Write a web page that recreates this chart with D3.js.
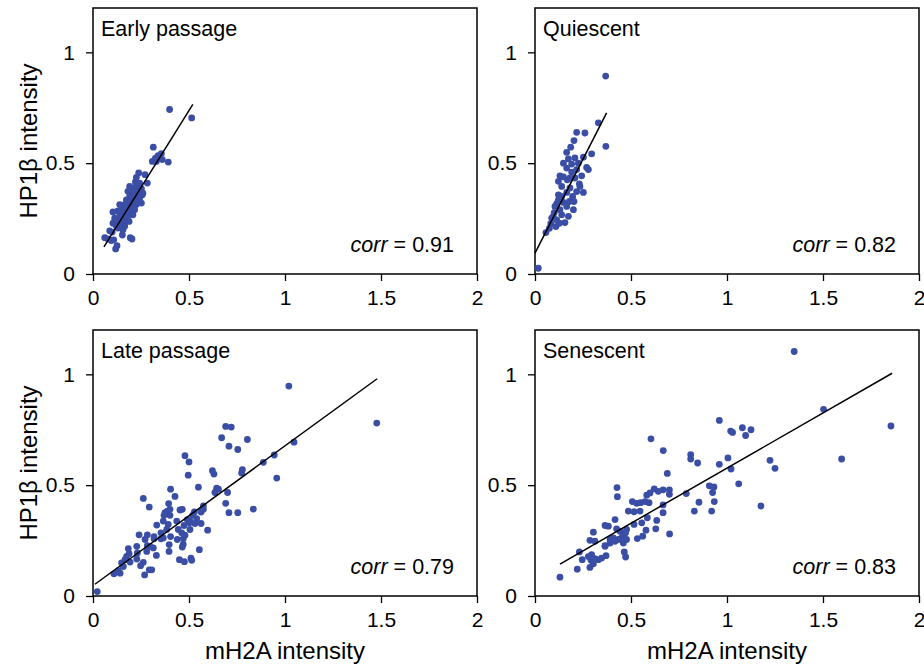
<!DOCTYPE html>
<html>
<head>
<meta charset="utf-8">
<script src="https://cdn.jsdelivr.net/npm/d3@7"></script>
<style>
  body { margin: 0; background: #fff; }
  text { font-family: "Liberation Sans", Arial, sans-serif; }
</style>
</head>
<body>
<div id="chart"></div>
<script>
// Panel titles and correlation labels
var panelNames = ["Early passage", "Quiescent", "Late passage", "Senescent"];
var corrValues = ["0.91", "0.82", "0.79", "0.83"];

// Tick labels
var xTicks = [0, 0.5, 1, 1.5, 2];
var yTicks = [0, 0.5, 1];

// Fit lines: [x0, y0, x1, y1]
var fitLines = [
  [0.057, 0.122, 0.52, 0.765],
  [0.0, 0.094, 0.373, 0.727],
  [0.01, 0.053, 1.48, 0.98],
  [0.13, 0.144, 1.86, 1.005]
];

// Points, [mH2A, HP1b] per cell
var earlyPassage = [
  [0.399,0.742],[0.514,0.704],[0.314,0.572],[0.356,0.543],[0.339,0.534],[0.325,0.523],
  [0.347,0.523],[0.309,0.508],[0.33,0.508],[0.361,0.516],[0.392,0.505],[0.238,0.456],
  [0.271,0.448],[0.226,0.436],[0.221,0.415],[0.283,0.41],[0.191,0.395],[0.234,0.403],
  [0.217,0.388],[0.252,0.385],[0.208,0.37],[0.234,0.361],[0.257,0.358],[0.191,0.35],
  [0.217,0.339],[0.174,0.334],[0.252,0.32],[0.2,0.324],[0.226,0.313],[0.165,0.313],
  [0.188,0.3],[0.217,0.29],[0.156,0.29],[0.13,0.285],[0.174,0.275],[0.2,0.275],
  [0.148,0.264],[0.113,0.252],[0.165,0.249],[0.135,0.24],[0.188,0.237],[0.104,0.229],
  [0.148,0.225],[0.122,0.215],[0.087,0.195],[0.1,0.189],[0.156,0.2],[0.153,0.176],
  [0.194,0.164],[0.203,0.158],[0.061,0.164],[0.078,0.158],[0.095,0.151],[0.108,0.154],
  [0.125,0.128],[0.118,0.113],[0.243,0.41],[0.26,0.365],[0.182,0.373],[0.243,0.342],
  [0.139,0.267],[0.174,0.252],[0.208,0.267],[0.122,0.237],[0.165,0.215],[0.182,0.327],
  [0.139,0.313],[0.104,0.28],[0.191,0.29],[0.217,0.358],[0.234,0.381],[0.174,0.297],
  [0.156,0.267],[0.205,0.305],[0.226,0.331],[0.182,0.259],[0.148,0.244],[0.13,0.207],
  [0.165,0.229]
];

var quiescent = [
  [0.017,0.026],[0.368,0.893],[0.369,0.576],[0.33,0.682],[0.217,0.639],[0.26,0.636],
  [0.203,0.602],[0.186,0.572],[0.165,0.549],[0.295,0.542],[0.174,0.519],[0.208,0.524],
  [0.252,0.527],[0.191,0.496],[0.269,0.481],[0.165,0.478],[0.217,0.471],[0.191,0.46],
  [0.13,0.443],[0.148,0.438],[0.243,0.443],[0.208,0.433],[0.168,0.425],[0.122,0.418],
  [0.231,0.407],[0.139,0.395],[0.182,0.388],[0.217,0.372],[0.165,0.368],[0.122,0.357],
  [0.196,0.35],[0.203,0.327],[0.148,0.323],[0.113,0.317],[0.165,0.305],[0.13,0.29],
  [0.1,0.277],[0.139,0.267],[0.087,0.252],[0.113,0.244],[0.156,0.232],[0.082,0.227],
  [0.109,0.214],[0.057,0.187],[0.075,0.206],[0.179,0.327],[0.104,0.305],[0.139,0.35],
  [0.234,0.395],[0.252,0.368],[0.095,0.26],[0.127,0.229],[0.182,0.433],[0.278,0.471],
  [0.148,0.5],[0.226,0.5],[0.2,0.29],[0.174,0.26],[0.122,0.334]
];

var latePassage = [
  [0.022,0.02],[1.02,0.947],[1.478,0.78],[1.047,0.694],[0.944,0.636],[0.887,0.603],
  [0.957,0.532],[0.835,0.392],[0.691,0.765],[0.72,0.762],[0.67,0.714],[0.804,0.706],
  [0.708,0.676],[0.754,0.661],[0.778,0.57],[0.774,0.555],[0.622,0.565],[0.63,0.55],
  [0.479,0.633],[0.5,0.605],[0.496,0.545],[0.549,0.491],[0.404,0.482],[0.427,0.449],
  [0.262,0.44],[0.293,0.401],[0.394,0.417],[0.387,0.383],[0.401,0.364],[0.37,0.364],
  [0.453,0.388],[0.465,0.391],[0.644,0.486],[0.653,0.482],[0.635,0.467],[0.701,0.467],
  [0.691,0.418],[0.708,0.376],[0.754,0.376],[0.575,0.406],[0.563,0.379],[0.528,0.379],
  [0.519,0.364],[0.491,0.345],[0.502,0.33],[0.531,0.327],[0.563,0.327],[0.474,0.318],
  [0.505,0.3],[0.597,0.297],[0.479,0.274],[0.444,0.3],[0.392,0.323],[0.366,0.338],
  [0.332,0.32],[0.354,0.285],[0.366,0.262],[0.318,0.268],[0.283,0.276],[0.24,0.276],
  [0.404,0.268],[0.439,0.255],[0.47,0.258],[0.397,0.232],[0.396,0.201],[0.47,0.233],
  [0.465,0.221],[0.554,0.209],[0.45,0.164],[0.476,0.155],[0.51,0.171],[0.514,0.161],
  [0.314,0.217],[0.33,0.183],[0.297,0.224],[0.28,0.201],[0.228,0.224],[0.231,0.194],
  [0.184,0.214],[0.188,0.191],[0.175,0.179],[0.167,0.164],[0.193,0.153],[0.149,0.149],
  [0.158,0.133],[0.132,0.114],[0.109,0.1],[0.141,0.103],[0.228,0.167],[0.262,0.152],
  [0.248,0.137],[0.293,0.118],[0.306,0.118],[0.269,0.095],[0.283,0.227],[0.384,0.3],
  [0.354,0.258],[0.375,0.376],[0.401,0.391],[0.505,0.338],[0.54,0.349],[0.575,0.391],
  [0.436,0.338],[0.462,0.285],[0.318,0.258],[0.271,0.255]
];

var senescent = [
  [0.13,0.085],[1.35,1.103],[1.503,0.842],[1.854,0.767],[1.597,0.618],[0.96,0.792],
  [1.019,0.744],[1.029,0.738],[1.08,0.759],[1.125,0.75],[1.097,0.724],[1.224,0.612],
  [1.25,0.576],[1.177,0.406],[1.005,0.623],[0.96,0.594],[1.021,0.573],[1.061,0.506],
  [0.604,0.709],[0.668,0.656],[0.811,0.638],[0.811,0.618],[0.847,0.6],[0.689,0.553],
  [0.908,0.497],[0.932,0.492],[0.925,0.467],[0.934,0.426],[0.92,0.383],[0.854,0.423],
  [0.83,0.383],[0.788,0.462],[0.7,0.479],[0.7,0.459],[0.667,0.479],[0.642,0.472],
  [0.621,0.483],[0.599,0.465],[0.582,0.455],[0.594,0.421],[0.573,0.426],[0.55,0.421],
  [0.53,0.418],[0.507,0.426],[0.427,0.489],[0.429,0.448],[0.667,0.411],[0.667,0.376],
  [0.547,0.383],[0.516,0.38],[0.486,0.383],[0.634,0.341],[0.585,0.353],[0.556,0.33],
  [0.516,0.323],[0.477,0.3],[0.472,0.285],[0.46,0.273],[0.451,0.262],[0.434,0.255],
  [0.417,0.247],[0.391,0.239],[0.365,0.227],[0.417,0.345],[0.382,0.315],[0.365,0.318],
  [0.425,0.303],[0.578,0.297],[0.629,0.303],[0.561,0.27],[0.533,0.259],[0.701,0.28],
  [0.304,0.288],[0.286,0.251],[0.312,0.247],[0.365,0.224],[0.465,0.199],[0.472,0.176],
  [0.37,0.182],[0.347,0.171],[0.33,0.164],[0.312,0.168],[0.295,0.186],[0.292,0.161],
  [0.286,0.129],[0.304,0.145],[0.246,0.164],[0.231,0.199],[0.22,0.121],[0.278,0.178],
  [0.391,0.255],[0.408,0.262],[0.443,0.292],[0.46,0.239],[0.477,0.255]
];

var panelData = [earlyPassage, quiescent, latePassage, senescent];

// Layout
var svgWidth = 924, svgHeight = 667;
var panelW = 384, panelH = 266;
var panelLeft = [93, 535, 93, 535];
var panelTop = [8, 8, 330, 330];
var dotColor = "#3a4ea5";

var svg = d3.select("#chart")
  .append("svg")
  .attr("width", svgWidth)
  .attr("height", svgHeight);

var x = d3.scaleLinear().domain([0, 2]).range([0, panelW]);
var y = d3.scaleLinear().domain([0, 1.2]).range([panelH, 0]);

panelData.forEach(function (pts, i) {
  var g = svg.append("g")
    .attr("transform", "translate(" + panelLeft[i] + "," + panelTop[i] + ")");

  // Axes (ticks point outwards)
  var yAxis = g.append("g")
    .call(d3.axisLeft(y).tickValues(yTicks).tickSize(7).tickPadding(11)
      .tickFormat(function (d) { return d; }));
  var xAxis = g.append("g")
    .attr("transform", "translate(0," + panelH + ")")
    .call(d3.axisBottom(x).tickValues(xTicks).tickSize(7).tickPadding(9)
      .tickFormat(function (d) { return d; }));
  [yAxis, xAxis].forEach(function (ax) {
    ax.select(".domain").remove();
    ax.selectAll(".tick line").attr("stroke", "#000").attr("stroke-width", 1.3);
    ax.selectAll(".tick text")
      .attr("fill", "#000")
      .style("font-size", "21px")
      .style("font-family", "'Liberation Sans', Arial, sans-serif");
  });

  // Frame
  g.append("rect")
    .attr("width", panelW)
    .attr("height", panelH)
    .attr("fill", "none")
    .attr("stroke", "#000")
    .attr("stroke-width", 1.5);

  // Points
  g.selectAll(".dot")
    .data(pts)
    .enter()
    .append("circle")
    .attr("class", "dot")
    .attr("cx", function (d) { return x(d[0]); })
    .attr("cy", function (d) { return y(d[1]); })
    .attr("r", 3.4)
    .attr("fill", dotColor);

  // Fit line
  var f = fitLines[i];
  g.append("line")
    .attr("x1", x(f[0])).attr("y1", y(f[1]))
    .attr("x2", x(f[2])).attr("y2", y(f[3]))
    .attr("stroke", "#000")
    .attr("stroke-width", 1.5);

  // Panel title
  g.append("text")
    .attr("x", 8)
    .attr("y", 28)
    .style("font-size", "21.5px")
    .text(panelNames[i]);

  // Correlation label
  var c = g.append("text")
    .attr("x", panelW - 23)
    .attr("y", panelH - 22)
    .attr("text-anchor", "end")
    .style("font-size", "21.5px");
  c.append("tspan").style("font-style", "italic").text("corr");
  c.append("tspan").text(" = " + corrValues[i]);
});

// Axis titles
[0, 1].forEach(function (row) {
  var cy = panelTop[row * 2] + panelH / 2;
  svg.append("text")
    .attr("transform", "translate(37," + cy + ") rotate(-90)")
    .attr("text-anchor", "middle")
    .style("font-size", "24px")
    .text("HP1\u03b2 intensity");
});
[0, 1].forEach(function (col) {
  svg.append("text")
    .attr("x", panelLeft[col] + panelW / 2)
    .attr("y", 659)
    .attr("text-anchor", "middle")
    .style("font-size", "24px")
    .text("mH2A intensity");
});
</script>
</body>
</html>
